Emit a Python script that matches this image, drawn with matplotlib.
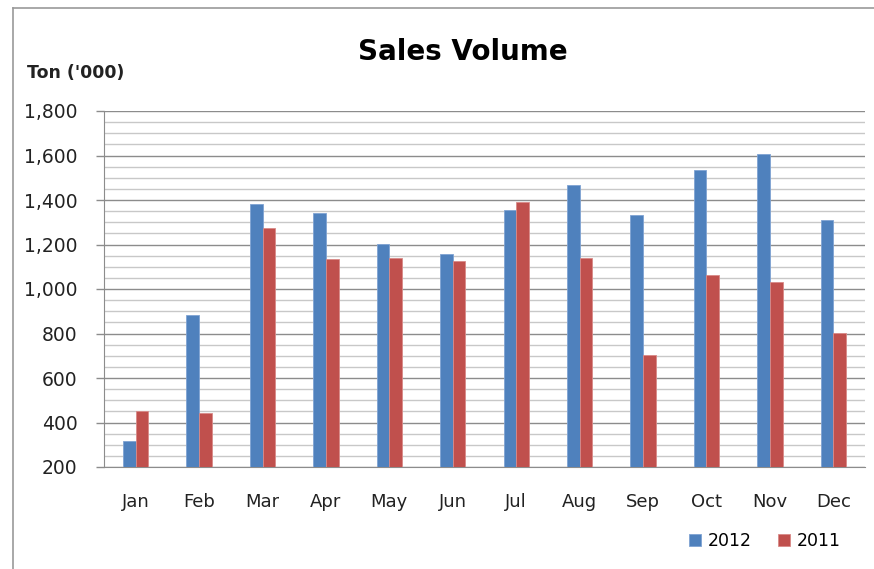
import matplotlib.pyplot as plt
import numpy as np
from matplotlib.lines import Line2D
from matplotlib.ticker import FuncFormatter, MultipleLocator

months = ["Jan", "Feb", "Mar", "Apr", "May", "Jun", "Jul", "Aug", "Sep", "Oct", "Nov", "Dec"]
sales_2012 = [318, 885, 1380, 1343, 1202, 1156, 1357, 1466, 1334, 1536, 1607, 1312]
sales_2011 = [450, 443, 1276, 1133, 1141, 1126, 1391, 1141, 702, 1065, 1033, 801]

BLUE = "#4F81BD"
RED = "#C0504D"

plt.rcParams["font.family"] = ["DejaVu Sans"]

fig = plt.figure(figsize=(8.74, 5.69), dpi=100)
ax = fig.add_axes([104 / 874, 1 - 467 / 569, (865 - 104) / 874, (467 - 111) / 569])

x = np.arange(len(months))
w = 0.2
ax.bar(x - w / 2, sales_2012, w, bottom=0, color=BLUE, edgecolor="#7FA3D3", linewidth=0.6, label="2012", zorder=3)
ax.bar(x + w / 2, sales_2011, w, bottom=0, color=RED, edgecolor="#D98A88", linewidth=0.6, label="2011", zorder=3)

ax.set_xlim(-0.5, len(months) - 0.5)
ax.set_ylim(200, 1800)
ax.yaxis.set_major_locator(MultipleLocator(200))
ax.yaxis.set_minor_locator(MultipleLocator(50))
ax.yaxis.set_major_formatter(FuncFormatter(lambda v, p: f"{int(v):,}"))
ax.grid(which="minor", axis="y", color="#C8C8C8", linewidth=1.0, zorder=0)
ax.grid(which="major", axis="y", color="#8C8C8C", linewidth=1.0, zorder=1)
ax.set_axisbelow(True)

ax.set_xticks(x)
ax.set_xticklabels(months)
ax.tick_params(axis="x", length=0, pad=19, labelsize=13, colors="#222222")
ax.tick_params(axis="y", which="major", length=6, width=1, color="#8C8C8C", pad=13, labelsize=13.5, labelcolor="#222222")
ax.tick_params(axis="y", which="minor", length=0)

for side in ["top", "right"]:
    ax.spines[side].set_visible(False)
ax.spines["left"].set_color("#8C8C8C")
ax.spines["bottom"].set_color("#8C8C8C")

fig.text(463 / 874, 1 - 52 / 569, "Sales Volume", ha="center", va="center", fontsize=20, fontweight="bold")
fig.text(27 / 874, 1 - 73 / 569, "Ton ('000)", ha="left", va="center", fontsize=12.5, fontweight="bold", color="#222222")

ax.legend(loc="center", bbox_to_anchor=(765 / 874, 1 - 541 / 569), bbox_transform=fig.transFigure,
          ncol=2, frameon=False, fontsize=12.5, handlelength=0.7, handleheight=0.7, handletextpad=0.4,
          columnspacing=1.5)

# chart border
fig.add_artist(Line2D([13 / 874, 13 / 874], [0, 1 - 8 / 569], transform=fig.transFigure, color="#999999", linewidth=1.2))
fig.add_artist(Line2D([13 / 874, 1], [1 - 8 / 569, 1 - 8 / 569], transform=fig.transFigure, color="#999999", linewidth=1.2))

fig.savefig("out.png", dpi=100)
